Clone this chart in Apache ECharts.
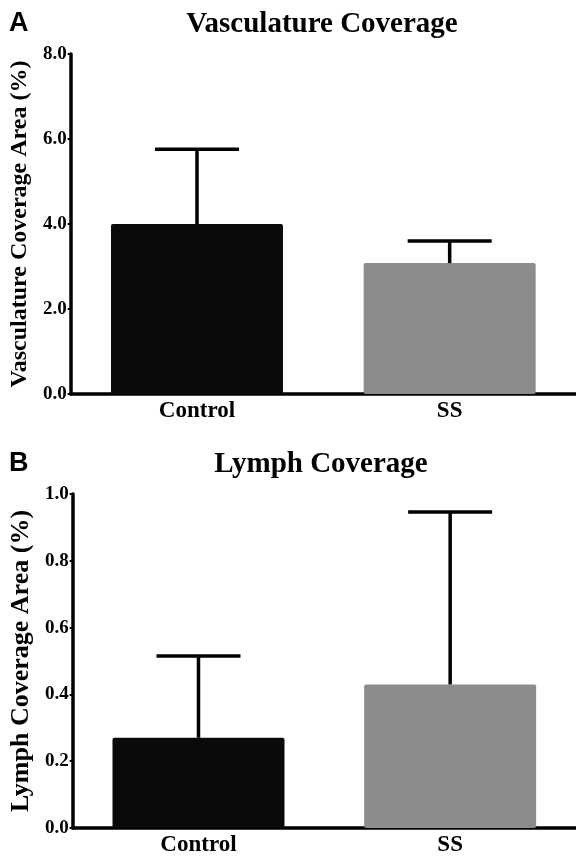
<!DOCTYPE html>
<html>
<head>
<meta charset="utf-8">
<style>
  html, body { margin: 0; padding: 0; background: #fff; }
  #chart { width: 576px; height: 857px; }
</style>
<script src="https://cdn.jsdelivr.net/npm/echarts@6/dist/echarts.min.js"></script>
</head>
<body>
<div id="chart"></div>
<script>
// groups and bar colours
const categories = ['Control', 'SS'];
const barColors = ['#0a0a0a', '#8c8c8c'];

// panel A: vasculature coverage (%), mean and upper end of error bar
const vascMean = [4.0, 3.08];
const vascUpper = [5.76, 3.6];
const vascTicks = [0, 2, 4, 6, 8];

// panel B: lymph coverage (%)
const lymphMean = [0.27, 0.43];
const lymphUpper = [0.515, 0.946];
const lymphTicks = [0, 0.2, 0.4, 0.6, 0.8, 1.0];

const serif = 'Liberation Serif';

function barData(means) {
    return means.map(function (v, i) {
        return { value: v, itemStyle: { color: barColors[i] } };
    });
}

function errData(means, uppers) {
    return means.map(function (v, i) { return [i, v, uppers[i]]; });
}

// draws the one-sided error bar (stem + cap) through the axis scales
function renderError(params, api) {
    const base = api.coord([api.value(0), api.value(1)]);
    const top = api.coord([api.value(0), api.value(2)]);
    const half = 42;
    const st = { stroke: '#000', lineWidth: 3.5 };
    return {
        type: 'group',
        children: [
            { type: 'line', shape: { x1: base[0], y1: base[1], x2: top[0], y2: top[1] }, style: st },
            { type: 'line', shape: { x1: top[0] - half, y1: top[1], x2: top[0] + half, y2: top[1] }, style: st }
        ]
    };
}

function yAxis(idx, name, ticks, gap, nameSize) {
    return {
        type: 'value',
        gridIndex: idx,
        min: ticks[0],
        max: ticks[ticks.length - 1],
        interval: ticks[1] - ticks[0],
        name: name,
        nameLocation: 'middle',
        nameGap: gap,
        nameTextStyle: { fontFamily: serif, fontWeight: 'bold', fontSize: nameSize, color: '#000' },
        splitLine: { show: false },
        axisLine: { show: true, lineStyle: { color: '#000', width: 3.5 } },
        axisTick: { show: true, length: 3, lineStyle: { color: '#000', width: 2 } },
        axisLabel: {
            margin: 4,
            fontFamily: serif, fontWeight: 'bold', fontSize: 19, color: '#000',
            formatter: function (v) { return v.toFixed(1); }
        }
    };
}

function xAxis(idx) {
    return {
        type: 'category',
        gridIndex: idx,
        data: categories,
        axisLine: { show: true, lineStyle: { color: '#000', width: 3.5 } },
        axisTick: { show: false },
        axisLabel: { margin: 6, fontFamily: serif, fontWeight: 'bold', fontSize: 23, color: '#000' }
    };
}

const letterStyle = { fontFamily: 'Liberation Sans', fontWeight: 'bold', fontSize: 27, color: '#000' };
const titleStyle = { fontFamily: serif, fontWeight: 'bold', fontSize: 29, color: '#000' };

const chart = echarts.init(document.getElementById('chart'));
chart.setOption({
    animation: false,
    backgroundColor: '#fff',
    title: [
        { text: 'A', left: 9, top: 10, padding: 0, textStyle: letterStyle },
        { text: 'Vasculature Coverage', left: 322, top: 10, padding: 0, textAlign: 'center', textStyle: titleStyle },
        { text: 'B', left: 9, top: 450, padding: 0, textStyle: letterStyle },
        { text: 'Lymph Coverage', left: 321, top: 450, padding: 0, textAlign: 'center', textStyle: titleStyle }
    ],
    grid: [
        { left: 69, right: 0, top: 54, height: 340 },
        { left: 72, right: 0, top: 494, height: 336 }
    ],
    xAxis: [xAxis(0), xAxis(1)],
    yAxis: [
        yAxis(0, 'Vasculature Coverage Area (%)', vascTicks, 37, 24),
        yAxis(1, 'Lymph Coverage Area (%)', lymphTicks, 38, 26)
    ],
    series: [
        {
            type: 'bar', xAxisIndex: 0, yAxisIndex: 0, barWidth: 172,
            itemStyle: { borderRadius: 2 },
            data: barData(vascMean)
        },
        {
            type: 'custom', xAxisIndex: 0, yAxisIndex: 0, z: 5,
            renderItem: renderError,
            encode: { x: 0, y: [1, 2] },
            data: errData(vascMean, vascUpper)
        },
        {
            type: 'bar', xAxisIndex: 1, yAxisIndex: 1, barWidth: 172,
            itemStyle: { borderRadius: 2 },
            data: barData(lymphMean)
        },
        {
            type: 'custom', xAxisIndex: 1, yAxisIndex: 1, z: 5,
            renderItem: renderError,
            encode: { x: 0, y: [1, 2] },
            data: errData(lymphMean, lymphUpper)
        }
    ]
});

window.addEventListener('resize', function () {
    chart.resize();
});
</script>
</body>
</html>
